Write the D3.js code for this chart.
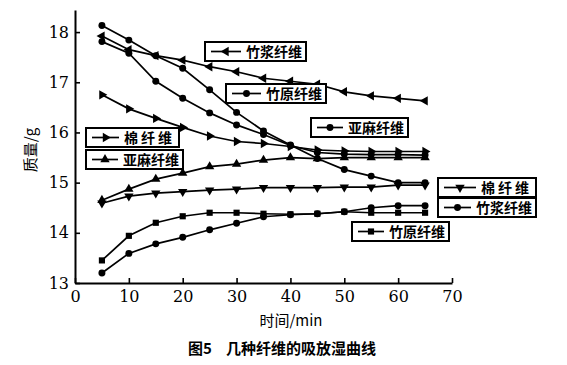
<!DOCTYPE html>
<html><head><meta charset="utf-8">
<script src="https://cdn.jsdelivr.net/npm/d3@7"></script>
<style>
body{margin:0;background:#fff;}
svg{display:block;}
</style></head>
<body>
<svg id="c" width="567" height="365"></svg>
<script>
// ---- data ----
const times = [5,10,15,20,25,30,35,40,45,50,55,60,65];
const seriesNames = ["竹浆纤维","竹原纤维","亚麻纤维","棉纤维","亚麻纤维","棉纤维","竹浆纤维","竹原纤维"];
const bambooPulpDes = [17.92,17.65,17.53,17.44,17.31,17.21,17.08,17.02,16.96,16.81,16.73,16.68,16.63];
const bambooRawDes  = [18.13,17.84,17.53,17.28,16.85,16.40,16.03,15.75,15.48,15.26,15.13,15.00,15.00];
const flaxDes       = [17.81,17.58,17.02,16.68,16.39,16.15,15.96,15.74,15.60,15.57,15.56,15.56,15.55];
const cottonDes     = [16.75,16.47,16.28,16.10,15.93,15.82,15.78,15.72,15.65,15.63,15.62,15.62,15.62];
const flaxAbs       = [14.65,14.87,15.07,15.19,15.32,15.37,15.45,15.50,15.48,15.50,15.50,15.50,15.50];
const cottonAbs     = [14.59,14.73,14.79,14.82,14.85,14.87,14.90,14.90,14.90,14.91,14.91,14.95,14.95];
const bambooPulpAbs = [13.20,13.59,13.78,13.91,14.06,14.19,14.32,14.36,14.38,14.42,14.50,14.54,14.54];
const bambooRawAbs  = [13.45,13.94,14.20,14.33,14.40,14.40,14.38,14.37,14.38,14.42,14.40,14.40,14.40];
const xTicks = [0,10,20,30,40,50,60,70];
const yTicks = [13,14,15,16,17,18];
const xLabel = "时间/min";
const yLabel = "质量/g";
const caption = "几种纤维的吸放湿曲线";
const captionNo = "图5";

// ---- styles / layout ----
const markers = ["left","circle","circle","right","up","down","circle","square"];
const labelBoxes = [
  {x:205,y:42,w:101,ls:0},
  {x:226,y:84,w:100,ls:0},
  {x:311,y:118,w:97,ls:0},
  {x:86,y:128,w:93,ls:3},
  {x:86,y:150,w:97,ls:0},
  {x:438,y:178,w:98,ls:3},
  {x:438,y:198,w:98,ls:0},
  {x:352,y:222,w:97,ls:0}
];
const allValues = [bambooPulpDes,bambooRawDes,flaxDes,cottonDes,flaxAbs,cottonAbs,bambooPulpAbs,bambooRawAbs];

const svg = d3.select("#c");
const x = d3.scaleLinear().domain([0,70]).range([75,452]);
const y = d3.scaleLinear().domain([13,18.44]).range([283,10]);
const cjk = "'Noto Sans CJK SC','Noto Sans CJK JP',sans-serif";

// axes
const gx = svg.append("g").attr("transform",`translate(0,${y(13)})`)
  .call(d3.axisBottom(x).tickValues(xTicks).tickFormat(d3.format("d")).tickSizeInner(-5).tickSizeOuter(0).tickPadding(8));
const gy = svg.append("g").attr("transform",`translate(${x(0)},0)`)
  .call(d3.axisLeft(y).tickValues(yTicks).tickFormat(d3.format("d")).tickSizeInner(-5).tickSizeOuter(0).tickPadding(6));
[gx,gy].forEach(g=>{
  g.attr("font-family","DejaVu Serif").attr("font-size",16);
  g.select(".domain").attr("stroke","#000").attr("stroke-width",2);
  g.selectAll(".tick line").attr("stroke","#000").attr("stroke-width",1.6);
  g.selectAll("text").attr("font-family","DejaVu Serif").attr("font-size",16).attr("fill","#000");
});

function symPath(type,size){
  const s = size||38;
  if(type==="circle") return {d:d3.symbol(d3.symbolCircle,s)(),r:0};
  if(type==="square") return {d:d3.symbol(d3.symbolSquare,s)(),r:0};
  if(type==="up") return {d:d3.symbol(d3.symbolTriangle,s)(),r:0};
  if(type==="down") return {d:d3.symbol(d3.symbolTriangle,s)(),r:180};
  if(type==="left") return {d:d3.symbol(d3.symbolTriangle,s)(),r:-90};
  if(type==="right") return {d:d3.symbol(d3.symbolTriangle,s)(),r:90};
}

const line = d3.line().x((d,i)=>x(times[i])).y(d=>y(d));
allValues.forEach((vals,k)=>{
  svg.append("path").attr("d",line(vals)).attr("fill","none")
    .attr("stroke","#000").attr("stroke-width",1.7);
  const sp = symPath(markers[k]);
  svg.append("g").selectAll("path").data(vals).join("path")
    .attr("d",sp.d)
    .attr("transform",(d,i)=>`translate(${x(times[i])},${y(d)}) rotate(${sp.r})`)
    .attr("fill","#000");
});

// labels (boxed)
labelBoxes.forEach((b,k)=>{
  const g = svg.append("g");
  g.append("rect").attr("x",b.x).attr("y",b.y).attr("width",b.w).attr("height",19)
    .attr("fill","#fff").attr("stroke","#000").attr("stroke-width",2);
  const t = g.append("text").attr("x",b.x+b.w-4).attr("y",b.y+15)
    .attr("text-anchor","end").style("font-family",cjk).style("font-size","14px")
    .attr("font-weight","bold").attr("letter-spacing",b.ls).text(seriesNames[k]);
  const tw = t.node().getComputedTextLength();
  const x1 = b.x+6, x2 = b.x+b.w-4-tw-5;
  g.append("line").attr("x1",x1).attr("x2",x2).attr("y1",b.y+9.5).attr("y2",b.y+9.5)
    .attr("stroke","#000").attr("stroke-width",1.7);
  const sp = symPath(markers[k]);
  g.append("path").attr("d",sp.d)
    .attr("transform",`translate(${(x1+x2)/2},${b.y+9.5}) rotate(${sp.r})`).attr("fill","#000");
});

// axis titles
svg.append("text").attr("x",291).attr("y",326).attr("text-anchor","middle")
  .style("font-family",cjk).style("font-size","15px").text(xLabel);
svg.append("text").attr("transform","translate(36,150) rotate(-90)").attr("text-anchor","middle")
  .style("font-family",cjk).style("font-size","15px").text(yLabel);
const cap = svg.append("text").attr("x",282).attr("y",354).attr("text-anchor","middle")
  .style("font-family",cjk).style("font-size","15px").attr("font-weight","bold");
cap.append("tspan").text(captionNo);
cap.append("tspan").attr("dx",14).text(caption);
</script>
</body></html>
